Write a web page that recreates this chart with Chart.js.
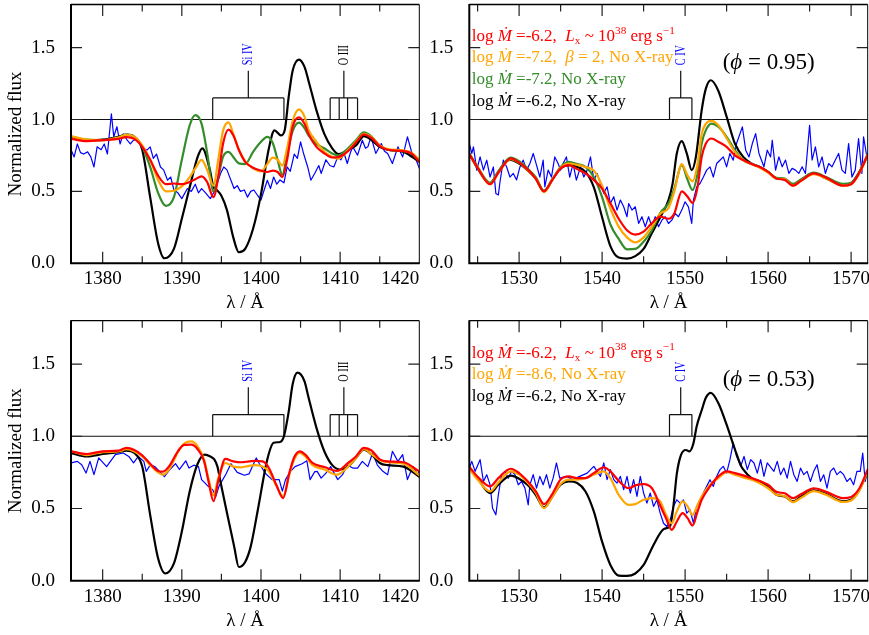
<!DOCTYPE html>
<html><head><meta charset="utf-8">
<script src="https://cdn.jsdelivr.net/npm/chart.js@4.4.0/dist/chart.umd.min.js"></script>
<style>
html,body{margin:0;padding:0;background:#fff;width:869px;height:635px;overflow:hidden;position:relative}
canvas{position:absolute}
</style></head><body>
<canvas id="tl" width="434" height="317" style="left:0;top:0"></canvas>
<canvas id="tr" width="445" height="317" style="left:424px;top:0"></canvas>
<canvas id="bl" width="434" height="318" style="left:0;top:317px"></canvas>
<canvas id="br" width="445" height="318" style="left:424px;top:317px"></canvas>
<script>
// ---------------- DATA ----------------
// Axis ticks
const siXLabels = [1380,1390,1400,1410,1420];
const siXTickMarks = [1380,1385,1390,1395,1400,1405,1410,1415];
const cXLabels = [1530,1540,1550,1560,1570];
const cXTickMarks = [1525,1530,1535,1540,1545,1550,1555,1560,1565,1570];
const yLabels = [0,0.5,1.0,1.5];
const yTickMarks = [0.5,1.0,1.5];

// Line identifications
const siIVLines = [1393.9,1402.9];
const oIIILines = [1408.74,1409.88,1410.94,1412.2];
const cIVLines = [1548.12,1550.82];

// ---- Top-left: Si IV, phi = 0.95 ----
const tlObsWave = [1376.0,1376.4,1376.8,1377.2,1377.6,1378.1,1378.5,1378.9,1379.3,1379.8,
  1380.2,1380.6,1381.1,1381.4,1381.8,1382.2,1382.6,1383.1,1383.5,1383.9,
  1384.5,1385.0,1385.6,1386.0,1386.4,1386.8,1387.3,1387.7,1388.2,1388.6,
  1389.0,1389.5,1390.0,1390.7,1391.2,1391.7,1392.1,1392.5,1393.0,1393.6,
  1394.2,1394.9,1395.3,1395.7,1396.2,1396.6,1397.0,1397.4,1397.9,1398.3,
  1398.7,1399.1,1399.6,1400.0,1400.4,1400.8,1401.2,1401.6,1402.0,1402.4,
  1402.9,1403.3,1403.7,1404.2,1404.6,1405.0,1405.4,1405.9,1406.3,1406.8,
  1407.3,1407.6,1408.2,1408.7,1409.2,1409.7,1410.1,1410.5,1410.9,1411.3,
  1411.6,1412.2,1412.8,1413.2,1413.5,1413.9,1414.5,1415.2,1415.6,1416.0,
  1416.6,1417.3,1417.9,1418.5,1419.2,1419.6,1420.0];
const tlObsFlux = [0.79,0.74,0.83,0.77,0.76,0.775,0.74,0.67,0.81,0.79,
  0.83,0.76,1.04,0.88,0.95,0.83,0.90,0.856,0.83,0.856,
  0.86,0.80,0.787,0.81,0.73,0.76,0.67,0.65,0.578,0.60,
  0.51,0.49,0.45,0.52,0.50,0.55,0.49,0.52,0.49,0.45,
  0.51,0.626,0.67,0.65,0.578,0.52,0.54,0.50,0.51,0.46,
  0.50,0.51,0.47,0.44,0.51,0.578,0.52,0.60,0.55,0.58,
  0.56,0.67,0.64,0.76,0.73,0.845,0.76,0.67,0.578,0.626,
  0.68,0.625,0.72,0.68,0.67,0.74,0.72,0.764,0.694,0.77,
  0.81,0.752,0.856,0.80,0.81,0.88,0.764,0.833,0.78,0.764,
  0.694,0.81,0.74,0.88,0.74,0.72,0.66];
const tlModelWave = [1376,1378,1380,1382,1383,1384,1385,1386,1387,1388,
  1389,1390,1391,1391.7,1392.5,1393.2,1394,1394.6,1395.2,1395.9,
  1396.5,1397.2,1398,1399,1400,1400.8,1401.5,1402.1,1402.7,1403.3,
  1404,1404.8,1405.5,1406,1407,1408,1409,1409.7,1411,1412,
  1413,1414,1415,1416,1418,1419,1420];
const tlGreenFlux = [0.88,0.86,0.857,0.875,0.895,0.88,0.81,0.67,0.49,0.40,
  0.46,0.72,0.96,1.03,0.97,0.77,0.50,0.60,0.74,0.775,
  0.74,0.695,0.69,0.775,0.845,0.88,0.835,0.72,0.615,0.76,
  0.92,0.978,0.94,0.89,0.83,0.80,0.764,0.75,0.80,0.856,
  0.91,0.88,0.82,0.79,0.78,0.765,0.72];
const tlOrangeFlux = [0.885,0.86,0.857,0.875,0.893,0.88,0.82,0.72,0.58,0.50,
  0.505,0.535,0.60,0.66,0.72,0.65,0.54,0.72,0.92,0.98,
  0.90,0.79,0.71,0.66,0.64,0.69,0.735,0.72,0.68,0.80,
  0.99,1.07,1.02,0.93,0.845,0.775,0.74,0.727,0.787,0.845,
  0.90,0.875,0.82,0.795,0.785,0.77,0.72];
const tlRedFlux = [0.865,0.85,0.857,0.865,0.878,0.865,0.81,0.72,0.61,0.55,
  0.555,0.55,0.565,0.585,0.605,0.565,0.46,0.60,0.83,0.93,
  0.89,0.79,0.706,0.665,0.645,0.635,0.645,0.635,0.60,0.72,
  0.95,1.015,0.97,0.90,0.81,0.765,0.736,0.738,0.78,0.84,
  0.896,0.87,0.815,0.79,0.78,0.765,0.706];
const tlBlackWave = [1376,1378,1380,1382,1383,1384,1385,1386,1387,1387.8,
  1389,1390,1391,1392,1392.6,1393.5,1394,1394.5,1395,1395.7,
  1396.5,1397.2,1398,1399,1400,1401,1401.7,1402.5,1403,1403.5,
  1404,1404.8,1405.5,1406,1407,1408,1409,1409.8,1411,1412,
  1413,1414,1415,1416,1418,1420];
const tlBlackFlux = [0.88,0.856,0.86,0.88,0.895,0.88,0.79,0.46,0.14,0.035,
  0.10,0.31,0.53,0.74,0.80,0.66,0.53,0.505,0.47,0.37,
  0.18,0.077,0.10,0.24,0.48,0.80,0.925,0.89,0.926,1.157,
  1.34,1.417,1.366,1.27,1.065,0.90,0.80,0.76,0.79,0.82,
  0.885,0.856,0.81,0.79,0.775,0.706];

// ---- Top-right: C IV, phi = 0.95 ----
const trObsWave = [1524.0,1524.3,1524.5,1524.9,1525.3,1525.7,1526.1,1526.5,1526.9,1527.2,
  1527.5,1527.7,1528.1,1528.5,1528.9,1529.3,1529.7,1530.1,1530.5,1530.9,
  1531.3,1531.7,1532.1,1532.5,1532.9,1533.1,1533.5,1533.9,1534.3,1534.7,
  1535.0,1535.3,1535.7,1536.1,1536.5,1536.9,1537.4,1537.8,1538.2,1538.6,
  1539.0,1539.4,1539.8,1540.2,1540.6,1541.0,1541.4,1541.8,1542.2,1542.6,
  1543.0,1543.2,1543.6,1544.0,1544.4,1544.8,1545.2,1545.6,1546.0,1546.4,
  1546.8,1547.2,1547.6,1548.0,1548.4,1548.8,1549.2,1549.6,1550.0,1550.4,
  1550.8,1551.0,1551.4,1551.8,1552.2,1552.6,1553.0,1553.4,1553.8,1554.2,
  1554.6,1555.0,1555.4,1555.8,1556.2,1556.9,1557.3,1557.7,1558.1,1558.5,
  1558.9,1559.5,1559.9,1560.3,1560.5,1560.9,1561.3,1561.7,1562.1,1562.5,
  1562.9,1563.3,1563.7,1564.1,1564.5,1565.0,1565.3,1565.7,1566.1,1566.5,
  1566.9,1567.3,1567.7,1568.1,1568.5,1568.9,1569.3,1569.7,1570.1,1570.5,
  1570.9,1571.3,1571.5,1571.9];
const trObsFlux = [0.833,0.764,0.81,0.648,0.74,0.648,0.718,0.60,0.67,0.486,
  0.475,0.567,0.718,0.67,0.60,0.625,0.58,0.67,0.718,0.648,
  0.694,0.764,0.683,0.60,0.718,0.532,0.648,0.60,0.74,0.694,
  0.648,0.694,0.74,0.60,0.694,0.578,0.671,0.60,0.648,0.74,
  0.578,0.625,0.555,0.486,0.532,0.416,0.463,0.37,0.44,0.393,
  0.324,0.416,0.37,0.393,0.277,0.324,0.254,0.324,0.254,0.324,
  0.254,0.30,0.324,0.277,0.30,0.347,0.324,0.37,0.428,0.393,
  0.277,0.44,0.532,0.555,0.60,0.648,0.671,0.60,0.694,0.717,
  0.74,0.671,0.764,0.717,0.833,0.949,0.787,0.74,0.833,0.902,
  0.764,0.671,0.787,0.74,0.856,0.648,0.74,0.671,0.718,0.625,
  0.66,0.648,0.625,0.671,0.625,0.96,0.718,0.81,0.671,0.74,
  0.625,0.694,0.671,0.718,0.764,0.648,0.625,0.833,0.60,0.648,
  0.868,0.625,0.88,0.74];
const trModelWave = [1524,1525,1526.5,1527.5,1529,1530,1531,1532,1533,1534,
  1535,1536,1537,1538,1539,1540,1541,1542,1543,1544,
  1545,1546,1547,1548,1548.7,1549.6,1550.3,1550.9,1551.5,1552,
  1552.5,1553.2,1554,1555,1556,1557,1558,1559,1560,1561,
  1562,1563,1564,1565.5,1567,1569,1570,1571,1572];
const trGreenFlux = [0.764,0.67,0.56,0.64,0.736,0.71,0.66,0.60,0.505,0.585,
  0.67,0.706,0.69,0.67,0.60,0.46,0.27,0.17,0.097,0.10,
  0.15,0.23,0.35,0.417,0.52,0.683,0.58,0.51,0.625,0.833,
  0.926,0.972,0.95,0.88,0.787,0.718,0.69,0.67,0.636,0.595,
  0.59,0.552,0.585,0.63,0.60,0.552,0.56,0.635,0.76];
const trOrangeFlux = [0.76,0.665,0.55,0.63,0.725,0.70,0.65,0.59,0.495,0.58,
  0.665,0.694,0.685,0.67,0.645,0.54,0.38,0.255,0.18,0.145,
  0.18,0.255,0.345,0.385,0.50,0.69,0.61,0.57,0.69,0.90,
  0.97,0.99,0.96,0.87,0.775,0.718,0.69,0.665,0.63,0.59,
  0.585,0.54,0.575,0.62,0.59,0.54,0.55,0.625,0.755];
const trRedFlux = [0.76,0.665,0.55,0.63,0.73,0.70,0.655,0.59,0.50,0.58,
  0.66,0.683,0.655,0.625,0.58,0.52,0.417,0.31,0.23,0.20,
  0.22,0.28,0.324,0.31,0.347,0.50,0.463,0.42,0.53,0.74,
  0.833,0.868,0.845,0.81,0.75,0.718,0.69,0.67,0.636,0.59,
  0.58,0.54,0.575,0.625,0.595,0.54,0.55,0.63,0.755];
const trBlackWave = [1524,1525,1526.5,1527.5,1528.5,1529,1530,1531,1532,1533,
  1534,1535,1536,1537,1538,1539,1540,1541,1542,1543,
  1544,1545,1546,1547,1548,1548.5,1549,1549.6,1550.2,1550.8,
  1551.3,1552,1552.5,1553.1,1554,1555,1556,1557,1558,1559,
  1560,1561,1562,1563,1564,1565.5,1567,1569,1570,1571,
  1572];
const trBlackFlux = [0.764,0.66,0.556,0.636,0.713,0.72,0.694,0.648,0.59,0.50,
  0.58,0.66,0.683,0.67,0.636,0.53,0.32,0.12,0.04,0.033,
  0.05,0.10,0.21,0.32,0.44,0.556,0.764,0.85,0.764,0.648,
  0.74,1.065,1.215,1.273,1.20,1.02,0.833,0.74,0.694,0.67,
  0.636,0.59,0.583,0.544,0.58,0.625,0.59,0.544,0.556,0.636,
  0.75];

// ---- Bottom-left: Si IV, phi = 0.53 ----
const blObsWave = [1376.0,1376.8,1377.35,1377.9,1378.4,1378.9,1379.5,1380.5,1381.6,1382.6,
  1383.3,1383.9,1384.5,1385.2,1385.5,1386.0,1386.6,1387.3,1387.8,1388.5,
  1389.2,1389.7,1390.5,1390.9,1391.5,1392.1,1392.5,1393.3,1393.9,1394.3,
  1394.7,1395.6,1396.2,1397.0,1397.9,1398.5,1399.4,1399.8,1400.6,1401.4,
  1402.3,1402.7,1403.1,1403.7,1404.3,1405.2,1405.8,1406.2,1406.8,1407.1,
  1407.6,1408.2,1408.8,1409.7,1410.3,1410.9,1411.6,1412.2,1412.8,1413.5,
  1414.1,1414.7,1415.4,1416.0,1416.6,1417.3,1417.9,1418.5,1419.2,1419.8,
  1420.0];
const blObsFlux = [0.815,0.826,0.803,0.745,0.826,0.734,0.85,0.79,0.873,0.884,
  0.86,0.815,0.86,0.826,0.757,0.80,0.79,0.75,0.72,0.77,
  0.81,0.77,0.83,0.78,0.80,0.79,0.70,0.655,0.63,0.585,
  0.655,0.74,0.81,0.75,0.73,0.74,0.85,0.81,0.74,0.70,
  0.70,0.62,0.70,0.755,0.79,0.81,0.83,0.70,0.755,0.757,
  0.71,0.745,0.79,0.70,0.734,0.80,0.78,0.78,0.826,0.79,
  0.884,0.80,0.757,0.734,0.896,0.826,0.873,0.70,0.79,0.734,
  0.757];
const blModelWave = [1376,1378,1380,1382,1383,1384,1385,1386,1387,1387.6,
  1388.5,1389.5,1390.3,1391.2,1392,1392.8,1393.4,1394,1394.6,1395.5,
  1396.5,1397.5,1398.5,1399.3,1400.2,1401,1402,1402.8,1403.6,1404.2,
  1404.9,1405.6,1406.5,1408,1409.6,1411,1412,1413,1414,1415,
  1416,1418,1420];
const blOrangeFlux = [0.896,0.87,0.89,0.895,0.91,0.895,0.86,0.80,0.75,0.734,
  0.78,0.89,0.95,0.965,0.93,0.84,0.70,0.59,0.71,0.815,
  0.79,0.785,0.795,0.80,0.79,0.757,0.65,0.583,0.74,0.84,
  0.884,0.86,0.80,0.77,0.734,0.79,0.85,0.91,0.875,0.835,
  0.82,0.81,0.73];
const blRedFlux = [0.896,0.877,0.896,0.90,0.92,0.905,0.868,0.81,0.76,0.755,
  0.80,0.896,0.94,0.942,0.91,0.83,0.68,0.55,0.69,0.843,
  0.826,0.82,0.826,0.83,0.826,0.78,0.655,0.572,0.75,0.855,
  0.896,0.873,0.815,0.787,0.76,0.815,0.86,0.92,0.90,0.84,
  0.826,0.82,0.757];
const blBlackWave = [1376,1378,1380,1382,1383,1384,1385,1386,1387,1387.9,
  1389,1390,1391,1392,1392.9,1393.6,1394.1,1394.5,1394.9,1395.7,
  1396.6,1397.2,1398,1398.7,1399.6,1400.8,1401.6,1402.4,1402.9,1403.5,
  1404,1404.6,1405.5,1406,1407,1408,1409,1410,1411,1412,
  1413,1414,1415,1416,1418,1420];
const blBlackFlux = [0.884,0.86,0.877,0.89,0.90,0.884,0.79,0.456,0.155,0.05,
  0.12,0.34,0.62,0.81,0.873,0.86,0.84,0.79,0.68,0.47,
  0.24,0.095,0.13,0.236,0.49,0.84,0.955,0.96,1.0,1.17,
  1.36,1.44,1.38,1.27,1.06,0.896,0.80,0.77,0.79,0.85,
  0.907,0.873,0.815,0.80,0.79,0.72];

// ---- Bottom-right: C IV, phi = 0.53 ----
const brObsWave = [1524.0,1524.3,1524.7,1525.3,1525.7,1526.1,1526.5,1526.8,1527.2,1527.5,
  1527.9,1528.3,1528.7,1529.1,1529.5,1529.9,1530.3,1530.7,1531.1,1531.3,
  1531.7,1532.1,1532.5,1532.9,1533.3,1533.7,1534.1,1534.5,1534.9,1535.7,
  1536.5,1537.3,1538.2,1539.0,1539.8,1540.2,1540.6,1541.0,1541.4,1541.8,
  1542.2,1542.6,1543.0,1543.4,1543.8,1544.2,1544.6,1545.0,1545.4,1545.8,
  1546.2,1546.6,1547.0,1547.4,1547.8,1548.2,1548.6,1549.0,1549.4,1549.8,
  1550.2,1550.6,1551.0,1551.4,1551.8,1552.2,1552.6,1553.0,1553.4,1553.8,
  1554.2,1554.6,1555.0,1555.4,1555.8,1556.2,1556.7,1557.1,1557.5,1557.9,
  1558.3,1558.7,1559.1,1559.5,1559.9,1560.7,1561.1,1561.5,1561.9,1562.3,
  1562.7,1563.1,1563.5,1563.9,1564.3,1564.7,1565.1,1565.5,1565.9,1566.3,
  1566.7,1567.1,1567.5,1567.9,1568.3,1568.7,1569.1,1569.5,1569.9,1570.3,
  1570.7,1571.1,1571.4,1571.7,1572.0];
const brObsFlux = [0.78,0.826,0.757,0.838,0.687,0.734,0.664,0.502,0.456,0.595,
  0.734,0.757,0.71,0.757,0.734,0.664,0.687,0.641,0.525,0.664,
  0.734,0.641,0.722,0.664,0.734,0.641,0.71,0.815,0.71,0.722,
  0.70,0.722,0.745,0.792,0.722,0.815,0.70,0.769,0.70,0.676,
  0.722,0.63,0.722,0.607,0.70,0.584,0.722,0.607,0.537,0.607,
  0.514,0.56,0.468,0.398,0.375,0.421,0.514,0.56,0.537,0.56,
  0.468,0.491,0.398,0.514,0.56,0.607,0.653,0.699,0.653,0.722,
  0.769,0.792,0.745,0.838,0.954,0.861,0.792,0.861,0.769,0.838,
  0.815,0.745,0.838,0.722,0.815,0.757,0.826,0.734,0.78,0.71,
  0.826,0.734,0.687,0.78,0.734,0.757,0.687,0.757,0.803,0.687,
  0.734,0.641,0.757,0.78,0.734,0.757,0.734,0.687,0.71,0.664,
  0.757,0.757,0.884,0.687,0.757];
const brModelWave = [1524,1525,1526.5,1527.5,1529,1530,1531,1532,1533,1534,
  1535,1536,1537,1538,1539,1540.2,1541,1542,1543.2,1544,
  1545,1546,1547,1547.7,1548.4,1549,1549.7,1550.3,1550.9,1551.5,
  1552,1553,1554,1555,1556,1557,1558,1559,1560,1561,
  1562,1563,1564,1565.5,1567,1569,1570,1571,1572];
const brOrangeFlux = [0.775,0.70,0.618,0.68,0.757,0.734,0.68,0.61,0.502,0.58,
  0.67,0.70,0.70,0.71,0.734,0.757,0.71,0.595,0.525,0.53,
  0.56,0.572,0.549,0.456,0.398,0.48,0.549,0.514,0.456,0.525,
  0.583,0.664,0.71,0.752,0.734,0.715,0.70,0.675,0.64,0.595,
  0.585,0.544,0.575,0.62,0.595,0.545,0.555,0.625,0.76];
const brRedFlux = [0.79,0.72,0.653,0.71,0.775,0.745,0.69,0.62,0.53,0.60,
  0.70,0.722,0.71,0.71,0.745,0.785,0.757,0.692,0.64,0.66,
  0.669,0.64,0.52,0.433,0.352,0.41,0.468,0.433,0.382,0.48,
  0.56,0.653,0.722,0.757,0.745,0.729,0.71,0.69,0.664,0.615,
  0.605,0.572,0.60,0.64,0.615,0.572,0.58,0.64,0.77];
const brBlackWave = [1524,1525,1526.5,1527.5,1529,1530,1531,1532,1533,1534,
  1535,1536,1537,1538,1539,1540,1541,1542,1543,1544,
  1545,1546,1547,1547.5,1548.2,1548.6,1549,1549.5,1550.1,1550.5,
  1551,1551.4,1552,1552.5,1553.1,1554,1555,1556,1556.7,1557,
  1558,1559,1560,1561,1562,1563,1564,1565.5,1567,1569,
  1570,1571,1572];
const brBlackFlux = [0.78,0.71,0.606,0.664,0.727,0.706,0.664,0.595,0.507,0.583,
  0.664,0.687,0.676,0.618,0.48,0.27,0.109,0.035,0.033,0.05,
  0.109,0.225,0.33,0.36,0.38,0.52,0.74,0.87,0.905,0.895,
  0.95,1.07,1.18,1.266,1.30,1.23,1.08,0.91,0.80,0.77,
  0.71,0.687,0.653,0.595,0.583,0.549,0.583,0.625,0.60,0.55,
  0.56,0.63,0.757];

// ---------------- STYLE / RENDERING ----------------
const FONT = "'Liberation Serif','Times New Roman',serif";
Chart.defaults.font.family = FONT;
Chart.defaults.color = '#000';
const COL = {red:'#ff0000', orange:'#ffa500', green:'#348c2a', blue:'#0000ff', black:'#000000'};

function pts(w,f){ return w.map((x,i)=>({x:x, y:f[i]})); }
function modelSet(w,f,color){
  return {data:pts(w,f), borderColor:color, borderWidth:2.2, pointRadius:0, fill:false,
          cubicInterpolationMode:'monotone', tension:0.4, borderJoinStyle:'round', borderCapStyle:'round'};
}
function obsSet(w,f){
  return {data:pts(w,f), borderColor:COL.blue, borderWidth:1.2, pointRadius:0, fill:false,
          tension:0, borderJoinStyle:'round'};
}

const markerPlugin = {
  id:'markers',
  beforeDatasetsDraw(chart, args, opts){
    const {ctx, chartArea:a, scales:{x,y}} = chart;
    ctx.save();
    ctx.strokeStyle = '#111'; ctx.lineWidth = 1.2;
    const y1 = y.getPixelForValue(1);
    ctx.beginPath(); ctx.moveTo(a.left,y1); ctx.lineTo(a.right,y1); ctx.stroke();
    (opts.groups||[]).forEach(g=>{
      const yb = y.getPixelForValue(1.15), ys = y.getPixelForValue(1.34);
      const xs = g.lines.map(v=>x.getPixelForValue(v));
      const xc = (Math.min(...xs)+Math.max(...xs))/2;
      ctx.beginPath();
      ctx.moveTo(Math.min(...xs), yb); ctx.lineTo(Math.max(...xs), yb);
      xs.forEach(px=>{ ctx.moveTo(px,y1); ctx.lineTo(px,yb); });
      ctx.moveTo(xc,yb); ctx.lineTo(xc,ys);
      ctx.stroke();
      ctx.save();
      ctx.translate(xc, y.getPixelForValue(1.378));
      ctx.rotate(-Math.PI/2);
      ctx.scale(0.68,1);
      ctx.font = '15px '+FONT; ctx.fillStyle = g.color;
      ctx.textAlign='left'; ctx.textBaseline='middle';
      ctx.fillText(g.label,0,0);
      ctx.restore();
    });
    ctx.restore();
  }
};

const framePlugin = {
  id:'frame',
  afterDraw(chart, args, opts){
    const {ctx, chartArea:a, scales:{x,y}} = chart;
    ctx.save();
    ctx.strokeStyle = '#222'; ctx.lineWidth = 1.2;
    ctx.beginPath();
    (opts.xTicks||[]).forEach(v=>{
      const px = x.getPixelForValue(v);
      const len = (v%10===0) ? 11.5 : 7;
      ctx.moveTo(px,a.bottom); ctx.lineTo(px,a.bottom-len);
      ctx.moveTo(px,a.top); ctx.lineTo(px,a.top+len);
    });
    (opts.yTicks||[]).forEach(v=>{
      const py = y.getPixelForValue(v);
      ctx.moveTo(a.left,py); ctx.lineTo(a.left+11,py);
      ctx.moveTo(a.right,py); ctx.lineTo(a.right-11,py);
    });
    ctx.stroke();
    ctx.strokeStyle = '#000';
    ctx.lineWidth = 1.3;
    ctx.beginPath(); ctx.moveTo(a.left,a.top); ctx.lineTo(a.right,a.top); ctx.stroke();
    ctx.lineWidth = 1;
    ctx.beginPath(); ctx.moveTo(a.right,a.top); ctx.lineTo(a.right,a.bottom); ctx.stroke();
    ctx.lineWidth = 2;
    ctx.beginPath(); ctx.moveTo(a.left,a.top-0.5); ctx.lineTo(a.left,a.bottom); ctx.lineTo(a.right+0.5,a.bottom); ctx.stroke();
    ctx.restore();
  }
};

const richTextPlugin = {
  id:'richText',
  afterDraw(chart, args, opts){
    const ctx = chart.ctx;
    (opts.items||[]).forEach(item=>{
      let x = item.x;
      ctx.save();
      ctx.fillStyle = item.color; ctx.textBaseline='alphabetic'; ctx.textAlign='left';
      item.parts.forEach(p=>{
        const small = (p.s==='sup'||p.s==='sub');
        const size = small ? item.size*0.66 : item.size;
        ctx.font = (p.s==='i' ? 'italic ' : '') + size + 'px ' + FONT;
        const dy = p.s==='sup' ? -item.size*0.42 : (p.s==='sub' ? item.size*0.2 : 0);
        ctx.fillText(p.t, x, item.y+dy);
        x += ctx.measureText(p.t).width;
      });
      ctx.restore();
    });
  }
};

function legendLine(mdot, rest){
  return [{t:'log '},{t:'Ṁ',s:'i'},{t:' =' + mdot + ', '}].concat(rest);
}
const legXray = legendLine('-6.2',[{t:' '},{t:'L',s:'i'},{t:'x',s:'sub'},{t:' ~ 10'},{t:'38',s:'sup'},{t:' erg s'},{t:'\u22121',s:'sup'}]);
const legBeta = legendLine('-7.2',[{t:' '},{t:'β',s:'i'},{t:' = 2, No X-ray'}]);
const legLow72 = legendLine('-7.2',[{t:'No X-ray'}]);
const legLow86 = legendLine('-8.6',[{t:'No X-ray'}]);
const legHigh = legendLine('-6.2',[{t:'No X-ray'}]);
function phase(v){ return [{t:'('},{t:'ϕ',s:'i'},{t:' = '+v+')'}]; }

function panel(id, cfg){
  const canvas = document.getElementById(id);
  const W = canvas.width, H = canvas.height, a = cfg.area;
  const tickVals = [cfg.xmin].concat(cfg.xLabels.filter(v=>v>cfg.xmin && v<cfg.xmax), [cfg.xmax]);
  new Chart(canvas, {
    type:'line',
    data:{datasets:cfg.datasets},
    options:{
      responsive:false, animation:false, devicePixelRatio:1, events:[],
      layout:{padding:{left:0, top:a.top, right:W-a.right, bottom:0}},
      plugins:{
        legend:{display:false}, tooltip:{enabled:false},
        markers:{groups:cfg.groups},
        frame:{xTicks:cfg.xTickMarks, yTicks:yTickMarks},
        richText:{items:cfg.texts}
      },
      scales:{
        x:{type:'linear', min:cfg.xmin, max:cfg.xmax,
          grid:{display:false, drawTicks:false}, border:{display:false},
          afterBuildTicks:(s)=>{ s.ticks = tickVals.map(v=>({value:v})); },
          ticks:{autoSkip:false, maxRotation:0, minRotation:0, align:'inner', padding:4.5,
                 font:{size:19}, color:'#000',
                 callback:(v)=> cfg.xLabels.includes(v) ? String(v) : ''},
          afterFit:(s)=>{ s.height = H - a.bottom; s.paddingLeft = 0; s.paddingRight = 0; },
          title:{display:true, text:'λ / Å', font:{size:19}, color:'#000',
                 padding:{top:0, bottom:H - a.bottom - 40.2 - 11.4}}
        },
        y:{type:'linear', min:0, max:1.8,
          grid:{display:false, drawTicks:false}, border:{display:false},
          afterBuildTicks:(s)=>{ s.ticks = yLabels.map(v=>({value:v})); },
          ticks:{padding:16, font:{size:19}, color:'#000', callback:(v)=>Number(v).toFixed(1)},
          afterFit:(s)=>{ s.width = a.left; s.paddingTop = 0; s.paddingBottom = 0; },
          title:{display:cfg.yTitle, text:'Normalized flux', font:{size:19}, color:'#000',
                 padding:{top:4.8, bottom:0}}
        }
      }
    },
    plugins:[markerPlugin, framePlugin, richTextPlugin]
  });
}

const siGroups = [
  {lines:siIVLines, label:'Si IV', color:COL.blue},
  {lines:oIIILines, label:'O III', color:'#000'}
];
const cGroups = [{lines:cIVLines, label:'C IV', color:COL.blue}];

panel('tl', {
  area:{left:71, right:419.3, top:4.5, bottom:263.3}, xmin:1376, xmax:1420,
  xLabels:siXLabels, xTickMarks:siXTickMarks, yTitle:true, groups:siGroups, texts:[],
  datasets:[modelSet(tlModelWave,tlRedFlux,COL.red), modelSet(tlModelWave,tlOrangeFlux,COL.orange),
            modelSet(tlModelWave,tlGreenFlux,COL.green), modelSet(tlBlackWave,tlBlackFlux,COL.black),
            obsSet(tlObsWave,tlObsFlux)]
});
panel('tr', {
  area:{left:45.3, right:443.7, top:4.5, bottom:263.3}, xmin:1524, xmax:1572,
  xLabels:cXLabels, xTickMarks:cXTickMarks, yTitle:false, groups:cGroups,
  texts:[
    {x:47.7, y:40.7, size:17, color:COL.red, parts:legXray},
    {x:47.7, y:62.3, size:17, color:COL.orange, parts:legBeta},
    {x:47.7, y:84, size:17, color:COL.green, parts:legLow72},
    {x:47.7, y:105.6, size:17, color:COL.black, parts:legHigh},
    {x:298.7, y:69, size:23, color:COL.black, parts:phase('0.95')}
  ],
  datasets:[modelSet(trModelWave,trRedFlux,COL.red), modelSet(trModelWave,trOrangeFlux,COL.orange),
            modelSet(trModelWave,trGreenFlux,COL.green), modelSet(trBlackWave,trBlackFlux,COL.black),
            obsSet(trObsWave,trObsFlux)]
});
panel('bl', {
  area:{left:71, right:419.3, top:3.7, bottom:263.7}, xmin:1376, xmax:1420,
  xLabels:siXLabels, xTickMarks:siXTickMarks, yTitle:true, groups:siGroups, texts:[],
  datasets:[modelSet(blModelWave,blRedFlux,COL.red), modelSet(blModelWave,blOrangeFlux,COL.orange),
            modelSet(blBlackWave,blBlackFlux,COL.black), obsSet(blObsWave,blObsFlux)]
});
panel('br', {
  area:{left:45.3, right:443.7, top:3.7, bottom:263.7}, xmin:1524, xmax:1572,
  xLabels:cXLabels, xTickMarks:cXTickMarks, yTitle:false, groups:cGroups,
  texts:[
    {x:47.7, y:40.5, size:17, color:COL.red, parts:legXray},
    {x:47.7, y:62, size:17, color:COL.orange, parts:legLow86},
    {x:47.7, y:83.5, size:17, color:COL.black, parts:legHigh},
    {x:298.7, y:69.2, size:23, color:COL.black, parts:phase('0.53')}
  ],
  datasets:[modelSet(brModelWave,brRedFlux,COL.red), modelSet(brModelWave,brOrangeFlux,COL.orange),
            modelSet(brBlackWave,brBlackFlux,COL.black), obsSet(brObsWave,brObsFlux)]
});
</script>
</body></html>
